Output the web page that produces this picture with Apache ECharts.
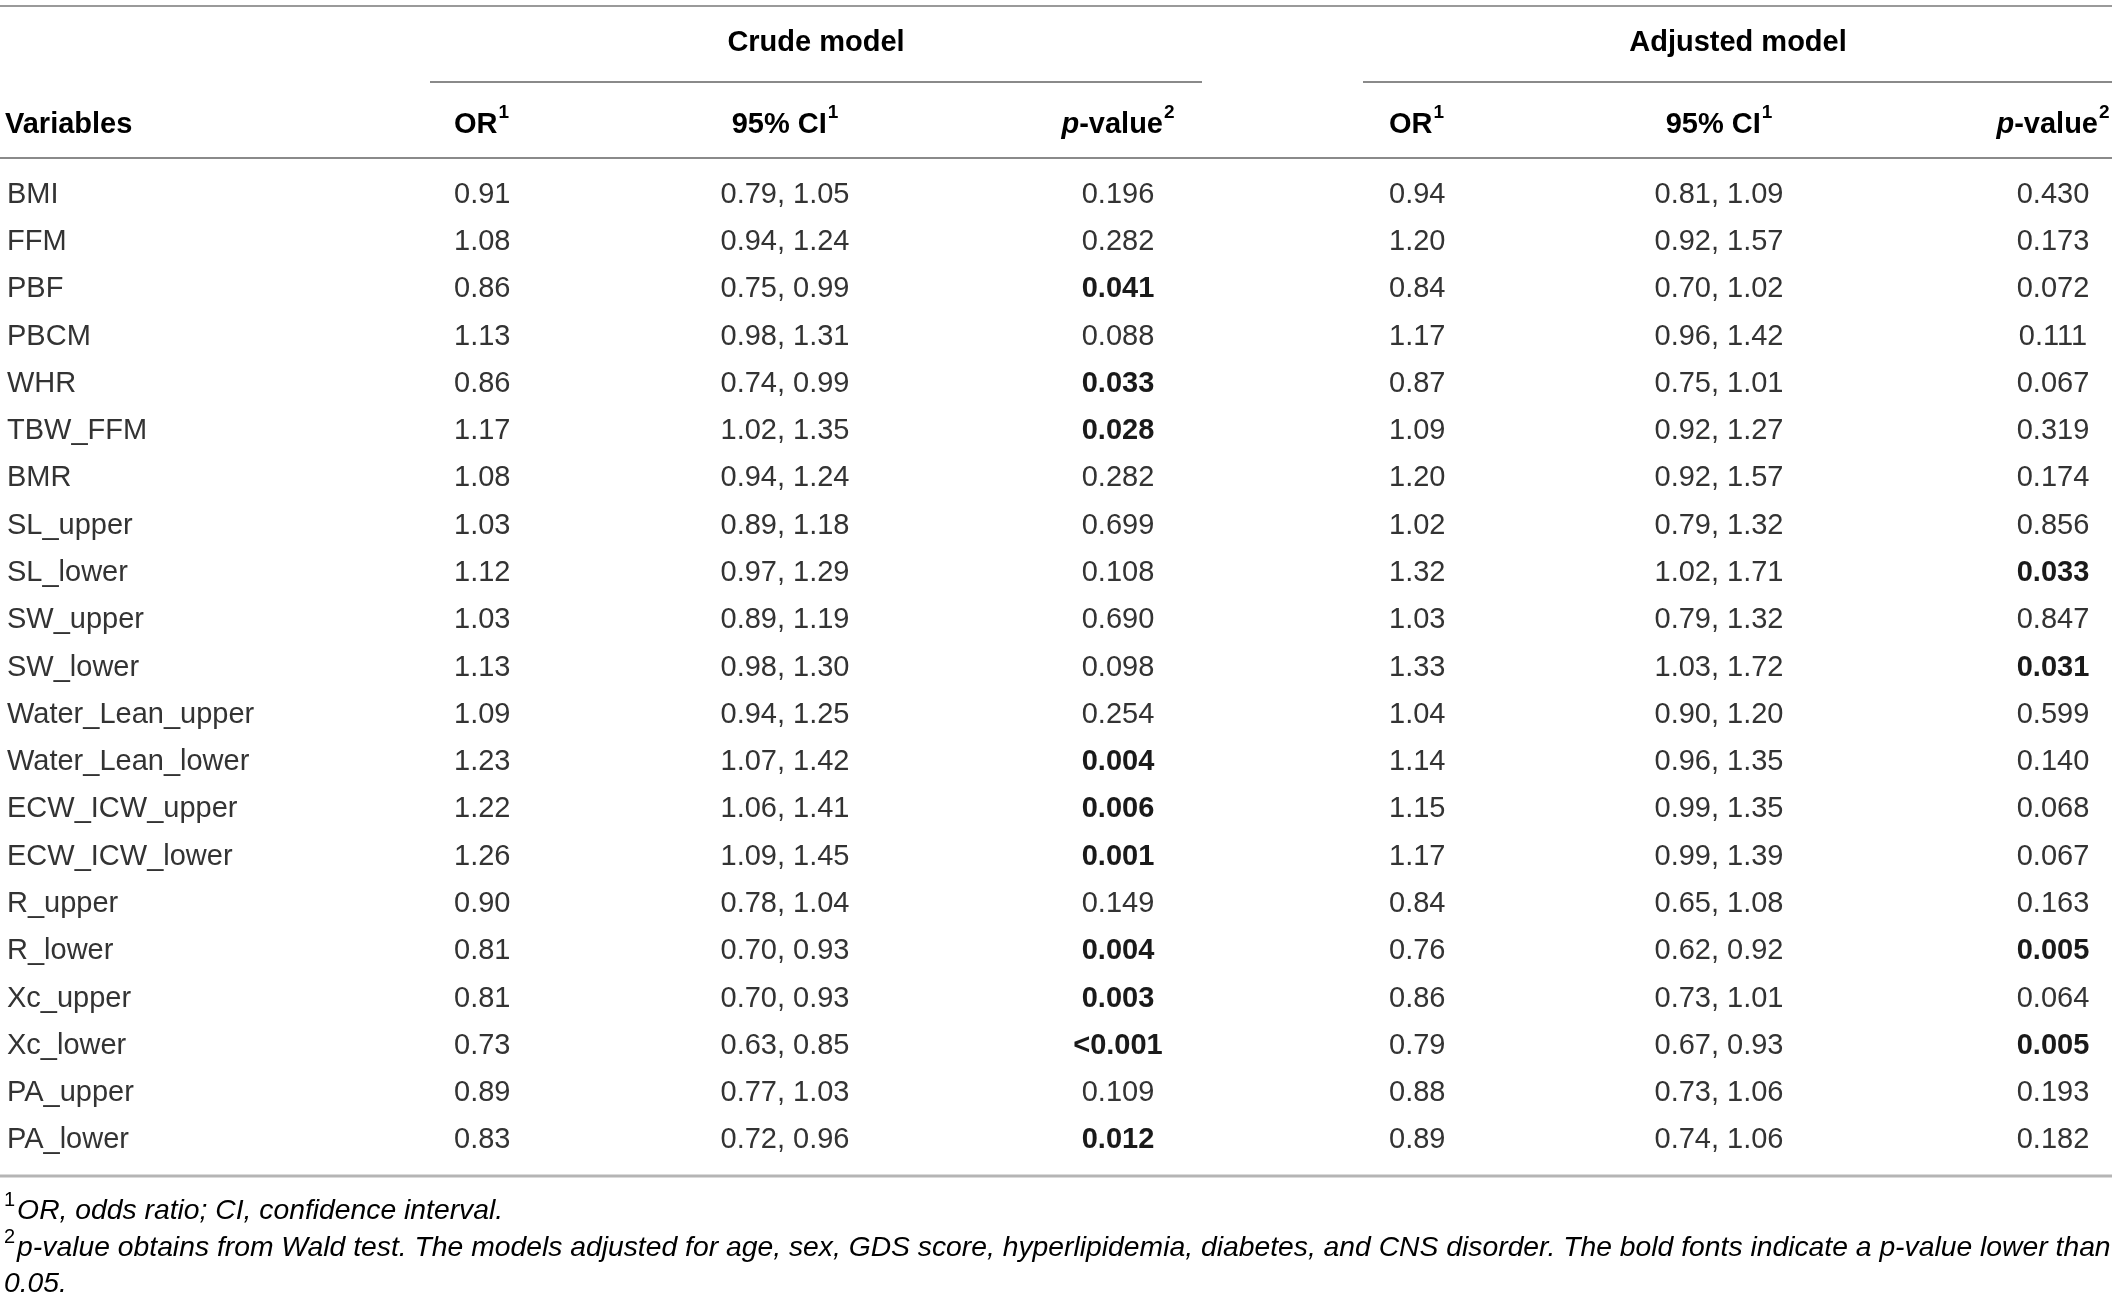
<!DOCTYPE html>
<html><head><meta charset="utf-8">
<script src="https://cdn.jsdelivr.net/npm/echarts@6/dist/echarts.min.js"></script>
<style>html,body{margin:0;padding:0;background:#fff}#c{width:2118px;height:1300px}</style>
</head><body><div id="c"></div>
<script>
// ---- data ----
const variables = ['BMI','FFM','PBF','PBCM','WHR','TBW_FFM','BMR','SL_upper','SL_lower','SW_upper','SW_lower','Water_Lean_upper','Water_Lean_lower','ECW_ICW_upper','ECW_ICW_lower','R_upper','R_lower','Xc_upper','Xc_lower','PA_upper','PA_lower'];
const crudeOR   = [0.91,1.08,0.86,1.13,0.86,1.17,1.08,1.03,1.12,1.03,1.13,1.09,1.23,1.22,1.26,0.90,0.81,0.81,0.73,0.89,0.83];
const crudeLow  = [0.79,0.94,0.75,0.98,0.74,1.02,0.94,0.89,0.97,0.89,0.98,0.94,1.07,1.06,1.09,0.78,0.70,0.70,0.63,0.77,0.72];
const crudeHigh = [1.05,1.24,0.99,1.31,0.99,1.35,1.24,1.18,1.29,1.19,1.30,1.25,1.42,1.41,1.45,1.04,0.93,0.93,0.85,1.03,0.96];
const crudeP    = ['0.196','0.282','0.041','0.088','0.033','0.028','0.282','0.699','0.108','0.690','0.098','0.254','0.004','0.006','0.001','0.149','0.004','0.003','<0.001','0.109','0.012'];
const adjOR     = [0.94,1.20,0.84,1.17,0.87,1.09,1.20,1.02,1.32,1.03,1.33,1.04,1.14,1.15,1.17,0.84,0.76,0.86,0.79,0.88,0.89];
const adjLow    = [0.81,0.92,0.70,0.96,0.75,0.92,0.92,0.79,1.02,0.79,1.03,0.90,0.96,0.99,0.99,0.65,0.62,0.73,0.67,0.73,0.74];
const adjHigh   = [1.09,1.57,1.02,1.42,1.01,1.27,1.57,1.32,1.71,1.32,1.72,1.20,1.35,1.35,1.39,1.08,0.92,1.01,0.93,1.06,1.06];
const adjP      = ['0.430','0.173','0.072','0.111','0.067','0.319','0.174','0.856','0.033','0.847','0.031','0.599','0.140','0.068','0.067','0.163','0.005','0.064','0.005','0.193','0.182'];
const groupHeaders = ['Crude model','Adjusted model'];
const footnote1 = 'OR, odds ratio; CI, confidence interval.';
const footnote2a = 'p-value obtains from Wald test. The models adjusted for age, sex, GDS score, hyperlipidemia, diabetes, and CNS disorder. The bold fonts indicate a p-value lower than';
const footnote2b = '0.05.';

// ---- layout ----
const W = 2118, H = 1300;
const colX = [7, 454, 785, 1118, 1389, 1719, 2053];
const colAlign = ['left','left','center','center','left','center','center'];
const FONT = '"Liberation Sans", Arial, Helvetica, sans-serif';
const TXT = '#333333';

const f2 = v => v.toFixed(2);
const isSig = p => p.indexOf('<') === 0 || parseFloat(p) < 0.05;

const cells = [];
variables.forEach((v, i) => {
  cells.push([0, i, v, 0]);
  cells.push([1, i, f2(crudeOR[i]), 0]);
  cells.push([2, i, f2(crudeLow[i]) + ', ' + f2(crudeHigh[i]), 0]);
  cells.push([3, i, crudeP[i], isSig(crudeP[i]) ? 1 : 0]);
  cells.push([4, i, f2(adjOR[i]), 0]);
  cells.push([5, i, f2(adjLow[i]) + ', ' + f2(adjHigh[i]), 0]);
  cells.push([6, i, adjP[i], isSig(adjP[i]) ? 1 : 0]);
});

const hdrRich = {
  b: {fontFamily: FONT, fontSize: 29, fontWeight: 'bold', color: '#1a1a1a', lineHeight: 36, verticalAlign: 'bottom'},
  i: {fontFamily: FONT, fontSize: 29, fontWeight: 'bold', fontStyle: 'italic', color: '#1a1a1a', lineHeight: 36, verticalAlign: 'bottom'},
  s: {fontFamily: FONT, fontSize: 19, fontWeight: 'bold', color: '#1a1a1a', lineHeight: 36, verticalAlign: 'top', padding: [0,0,0,1]}
};
const fnRich = {
  t: {fontFamily: FONT, fontSize: 28.3, fontStyle: 'italic', color: TXT, lineHeight: 35, verticalAlign: 'bottom'},
  s: {fontFamily: FONT, fontSize: 20, color: TXT, lineHeight: 35, verticalAlign: 'top', padding: [0,2,0,0]}
};

const HEAD_Y = 121, GROUP_Y = 39;
function hText(x, text, align, y) {
  return {type: 'text', x: x, y: y, style: {text: text, rich: hdrRich, align: align, textAlign: align, verticalAlign: 'middle', textVerticalAlign: 'middle'}};
}
function hLine(x1, x2, y, color, w) {
  return {type: 'line', shape: {x1: x1, y1: y, x2: x2, y2: y}, style: {stroke: color, lineWidth: w}};
}

const colHeaders = ['{b|Variables}', '{b|OR}{s|1}', '{b|95% CI}{s|1}', '{i|p}{b|-value}{s|2}', '{b|OR}{s|1}', '{b|95% CI}{s|1}', '{i|p}{b|-value}{s|2}'];

const graphics = [
  hLine(0, 2112, 6, '#9a9a9a', 2),
  hLine(430, 1202, 82, '#8a8a8a', 2),
  hLine(1363, 2112, 82, '#8a8a8a', 2),
  hLine(0, 2112, 158, '#8a8a8a', 2),
  hLine(0, 2112, 1176, '#b5b5b5', 3),
  hText(816, '{b|' + groupHeaders[0] + '}', 'center', GROUP_Y),
  hText(1738, '{b|' + groupHeaders[1] + '}', 'center', GROUP_Y)
];
colHeaders.forEach((t, k) => {
  const x = colX[k] + (k === 0 ? -2 : 0);
  graphics.push(hText(x, t, colAlign[k], HEAD_Y));
});
graphics.push({type: 'text', x: 4, y: 1208, style: {text: '{s|1}{t|' + footnote1 + '}', rich: fnRich, verticalAlign: 'middle', textVerticalAlign: 'middle'}});
graphics.push({type: 'text', x: 4, y: 1245, style: {text: '{s|2}{t|' + footnote2a + '}', rich: fnRich, verticalAlign: 'middle', textVerticalAlign: 'middle'}});
graphics.push({type: 'text', x: 4, y: 1281, style: {text: '{t|' + footnote2b + '}', rich: fnRich, verticalAlign: 'middle', textVerticalAlign: 'middle'}});

const chart = echarts.init(document.getElementById('c'));
chart.setOption({
  backgroundColor: '#fff',
  animation: false,
  grid: {left: 0, right: 0, top: 171, height: 993},
  xAxis: {type: 'value', min: 0, max: W, show: false},
  yAxis: {type: 'category', data: variables, inverse: true, show: false},
  graphic: graphics,
  series: [{
    type: 'custom',
    data: cells,
    renderItem: function (params, api) {
      const col = api.value(0);
      const row = api.value(1);
      const d = cells[params.dataIndex];
      const pt = api.coord([colX[col], row]);
      const bold = d[3] === 1;
      return {
        type: 'text',
        x: pt[0], y: pt[1],
        style: {
          text: d[2],
          font: (bold ? 'bold ' : '') + '29px ' + FONT,
          fill: bold ? '#1a1a1a' : TXT,
          align: colAlign[col], textAlign: colAlign[col],
          verticalAlign: 'middle', textVerticalAlign: 'middle'
        }
      };
    }
  }]
});
</script></body></html>
